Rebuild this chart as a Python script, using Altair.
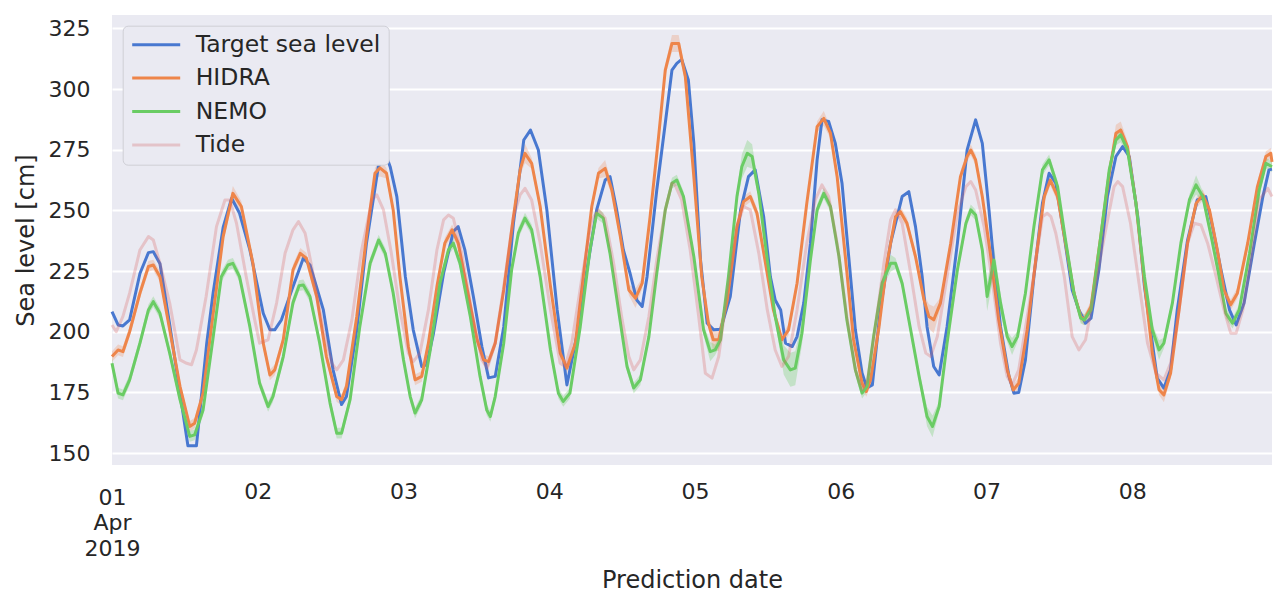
import altair as alt
import pandas as pd

# ---- data (hours since 2019-04-01 00:00, sea level in cm) ----
TARGET_H = [0, 1, 1.8, 2.9, 4.6, 6, 6.8, 7.9, 9.5, 11, 12.5, 13.9, 14.5, 15.6, 16.65, 18.3, 19.7, 21, 22.7, 24.9,
            26, 26.8, 27.9, 29.6, 31.5, 32.6, 34.8, 36.4, 37.8, 38.6, 40.3, 41.9, 43.85, 45, 45.8, 46.9, 48.3, 49.6,
            51, 51.8, 52.9, 54.6, 56.2, 57, 58.1, 59.5, 60.9, 62, 63.1, 64.5, 66.1, 67.8, 68.9, 70.2, 71.6, 73.3,
            74.9, 76.5, 78.2, 79.8, 81.2, 82, 83.1, 84.2, 85.3, 86.4, 87.3, 88.1, 89.7, 91.1, 92.2, 93, 93.8, 94.9,
            95.8, 96.9, 98, 99.1, 100.2, 101.8, 103.5, 104.8, 105.9, 107.3, 108.4, 109.2, 110.1, 110.9, 112, 112.8,
            113.9, 115, 116.1, 116.9, 118, 119.1, 120.2, 121.3, 122.4, 123.5, 124.3, 125.2, 126.5, 128.2, 130.1,
            131.2, 132.3, 133.4, 134.2, 135.3, 136.2, 137.5, 139.2, 140.8, 142.2, 143.3, 144.4, 145.2, 146.3, 147.7,
            148.5, 149.3, 150.4, 151.8, 153.2, 154.3, 155.4, 156.8, 158.1, 159.2, 160.3, 161.2, 162.5, 163.9, 165.3,
            166.4, 167.5, 168.9, 170, 171, 172.1, 173.2, 174.3, 175.4, 177.1, 178.7, 180.1, 181.2, 182.6, 184, 185.1,
            186.4, 188.1, 189.5, 190.5, 191]
TARGET_V = [208.3, 202.8, 202.4, 204.9, 224, 232.6, 233, 228, 203, 178, 153, 153, 167.8, 195.3, 216, 243, 255, 248.8,
            233.7, 207.6, 200.8, 200.8, 204.9, 217.2, 230.3, 227.5, 209, 184.3, 170, 173.3, 200.8, 236.5, 268, 273.5,
            268, 255.7, 222.7, 200.8, 185.7, 186.4, 198.9, 224.1, 241.3, 243.3, 233.7, 214.5, 193.9, 181, 181.6, 202,
            244.7, 279, 283.1, 274.9, 250.2, 209, 178.1, 198, 225.5, 250.2, 262.5, 263.9, 250.2, 233.7, 224.1, 213.1,
            210.4, 222.7, 258.4, 285.9, 307.8, 310.6, 312.2, 303.7, 277.6, 229.6, 203.5, 200.8, 201, 214.5, 250.2,
            263.9, 266.7, 247.4, 222.7, 213.1, 209, 195.3, 193.9, 198, 211.8, 236.5, 270.8, 287.3, 286.6, 277.6,
            261.2, 231, 200.8, 183, 176.8, 178.1, 209, 236.5, 255.7, 257.7, 243.3, 222.7, 202.1, 185.7, 182.2, 202.1,
            236.5, 274.9, 287.3, 277.6, 250.2, 228.2, 202.1, 181.6, 174.7, 175, 188.4, 222.7, 252.9, 265.3, 261.2,
            239.2, 217.2, 209, 203.5, 205.6, 225.5, 255.7, 272.2, 276.3, 272.2, 247.4, 218.6, 200.8, 180.9, 176.8,
            184.3, 209, 237.8, 254.3, 255.7, 243.3, 225.5, 209, 202.8, 211.8, 236.5, 255.7, 266.7, 267]

HIDRA_H = [0, 1, 1.8, 2.9, 4.6, 6, 6.8, 7.9, 9.5, 11.2, 12.8, 13.6, 15, 16.6, 18.3, 19.9, 21.3, 23.2, 24.9, 26, 26.8,
           28.2, 29.8, 31, 32, 33.7, 35.3, 37, 37.8, 38.6, 40.3, 41.9, 43.3, 44.1, 45.2, 46.3, 47.4, 48.8, 49.9, 51,
           52.1, 53.5, 54.8, 56, 57, 58.4, 60.1, 61.2, 62, 63.1, 64.5, 66.1, 67.2, 68, 69.1, 70.5, 72.2, 73.8, 74.9,
           76.3, 77.6, 79, 80.1, 81.2, 82.3, 83.7, 85.1, 86.2, 87.3, 88.6, 90, 91.1, 92.2, 93.3, 94.4, 95.8, 97.1,
           98.2, 99, 99.9, 101.3, 102.9, 104, 105.1, 106.2, 107.6, 108.9, 110.3, 111.4, 112.8, 114.4, 116.1, 117.2,
           118.3, 119.4, 120.8, 122.1, 123.5, 124.2, 124.9, 126.3, 127.6, 129, 129.8, 130.9, 132.3, 133.7, 134.5,
           135.3, 136.4, 138.1, 139.7, 140.8, 141.4, 142.2, 143.3, 144.7, 146, 147.4, 148.4, 149.3, 150.7, 152.1,
           153.5, 154.5, 155.7, 157, 158.4, 159.5, 160.1, 161.2, 162.8, 164.2, 165.3, 166.1, 167.2, 168.6, 170,
           171.3, 172.4, 173.2, 174.3, 175.7, 177.1, 178.5, 179.6, 180.7, 182, 183.1, 184.2, 185.3, 187, 188.6, 190,
           190.8, 191]
HIDRA_V = [189.8, 192.5, 191.8, 200, 215.9, 226.9, 227.5, 222.7, 200.8, 177.4, 161, 162.3, 174.7, 206.3, 239.2, 257,
           251.6, 228.2, 195.3, 182.2, 184.3, 196.7, 225.5, 232.3, 230.3, 214.5, 189.8, 173.3, 172, 177.4, 206.3,
           239.2, 265.3, 267.5, 265.3, 250.2, 222.7, 193.9, 180.2, 181.6, 195.3, 218.6, 236.5, 242, 236.5, 218.6,
           196.7, 188.4, 187.7, 195.3, 217.2, 247.4, 266.7, 273.5, 269.4, 251.6, 218.6, 191.2, 185, 195.3, 222.7,
           251.6, 265.3, 267.3, 258.4, 239.2, 217.2, 213.8, 220, 247.4, 280.4, 307.8, 318.8, 318.8, 305.1, 263.9,
           222.7, 203.5, 196.7, 196.7, 213.1, 243.3, 253.6, 255.7, 248.8, 228.2, 209, 196.7, 200.8, 220, 252.9,
           284.5, 287.9, 281.8, 263.9, 229.6, 196.7, 178.8, 175.4, 180.2, 202.1, 228.2, 247.4, 249.5, 244.7, 231,
           213.1, 206.3, 204.9, 211.8, 236.5, 263.9, 272.2, 274.9, 270.8, 255.7, 231, 204.9, 184.3, 176, 178.8,
           200.8, 229.6, 255.7, 262.5, 255.7, 236.5, 215.9, 206.3, 204.9, 210.4, 239.2, 265.3, 281.8, 283.1, 276.3,
           252.9, 220, 191.2, 176.1, 174, 182.9, 209, 236.5, 252.9, 256.4, 250.2, 233.7, 217.2, 211.1, 215.9, 236.5,
           259.8, 272.2, 273.5, 270]
HIDRA_WIDE = {19.9: 3, 44.1: 3.5, 68: 4, 81.2: 3.5, 92.2: 3.5, 93.3: 3.5, 86.2: 4, 99: 4.5, 99.9: 4.5,
              117.2: 3, 135.3: 5.5, 134.5: 5, 165.3: 3.5, 166.1: 3.5, 173.2: 3}

NEMO_H = [0, 1, 1.8, 2.9, 4.6, 6, 6.8, 7.9, 9.5, 11.2, 12.8, 13.6, 15, 16.6, 18, 19.1, 19.9, 21, 22.7, 24.3, 25.7,
          26.5, 28.2, 29.8, 30.8, 31.5, 32.6, 34.2, 35.9, 37, 37.8, 39.2, 40.8, 42.5, 43.9, 45, 46.3, 48, 49.1, 49.9,
          51, 52.4, 54, 55.4, 56.2, 57.3, 59, 60.6, 61.7, 62.3, 63.1, 64.5, 65.8, 66.9, 68, 69.1, 70.5, 72.2, 73.5,
          74.3, 75.4, 77.1, 78.7, 79.8, 80.9, 82, 83.4, 84.8, 85.9, 87, 88.4, 89.7, 91.1, 92.2, 93, 94.1, 95.8, 97.4,
          98.5, 99.3, 100.2, 101.5, 102.9, 103.7, 104.6, 105.4, 106.5, 107.9, 109.2, 110.6, 111.7, 112.5, 113.6,
          115, 116.1, 117.2, 118.3, 119.7, 121, 122.4, 123.5, 124.3, 125.4, 126.8, 128.2, 129, 130.1, 131.5, 132.9,
          134.2, 135.1, 136.2, 137.5, 139.2, 140.6, 141.4, 142.2, 143.3, 144.1, 145.2, 146.3, 147.4, 148.2, 149.1,
          150.4, 151.8, 153.2, 154.3, 155.7, 157, 158.4, 159.5, 160.1, 161.2, 162.8, 164.2, 165.3, 166.1, 167.2,
          168.6, 170, 171.3, 172.4, 173.2, 174.6, 176, 177.4, 178.5, 179.6, 181, 182.3, 183.4, 184.5, 185.6, 187.3,
          188.9, 190, 191]
NEMO_V = [187, 174.7, 174, 180.2, 195.3, 209, 212.4, 207.6, 191.2, 172, 156.9, 157.5, 167.8, 196.7, 222.7, 227.5,
          228.2, 222.7, 202.1, 178.8, 169.2, 173.3, 189.8, 212, 219, 219.3, 214.5, 195.3, 170.6, 158.2, 158.2, 172,
          202.1, 228.2, 237.8, 232.3, 215.9, 188.4, 173.3, 166.5, 172, 192.5, 220, 233.7, 236.5, 228.2, 206.3, 181.6,
          167.8, 165.1, 173.3, 195.3, 225.5, 240.6, 246.8, 242, 222.7, 192.5, 174.7, 171.3, 174.7, 202.1, 233.7,
          248.8, 246.8, 232.3, 209, 185.7, 176.8, 180.2, 198, 224.1, 250.2, 261.2, 262.5, 255.7, 231, 200.8, 191.8,
          192.5, 196.7, 222.7, 255.7, 268, 273.5, 272.2, 257, 229.6, 206.3, 188.4, 184.3, 185, 199.4, 229.6, 250.2,
          257, 251.6, 231, 204.9, 184.3, 174.7, 177.4, 198, 220, 228.2, 228.2, 220, 200.8, 181.6, 165.1, 161, 169.2,
          195.3, 225.5, 244.7, 250.2, 248.1, 233.7, 214.5, 229.6, 211.8, 198, 193.9, 198, 215.9, 243.3, 266.7,
          270.8, 259.8, 237.8, 215.9, 205.6, 204.9, 209, 239.2, 266.7, 279, 281.1, 274.9, 252.9, 222.7, 200.8,
          192.5, 195.3, 211.8, 236.5, 254.3, 260.5, 255.7, 239.2, 222.7, 207.6, 203.5, 209, 232.3, 258.4, 269.4, 268]
NEMO_WIDE = {98.5: 4, 103.7: 5, 104.6: 5.5, 105.4: 5, 110.6: 6, 111.7: 7, 112.5: 7, 113.6: 5, 128.2: 3.5,
             134.2: 4, 135.1: 4.5, 144.1: 6, 145.2: 6, 146.3: 4, 148.2: 3.5, 166.1: 3, 172.4: 4, 178.5: 4}

TIDE_H = [0, 0.7, 1.8, 2.9, 4.6, 6, 6.8, 7.9, 9.5, 11.2, 12.3, 13.1, 13.9, 15.5, 17.2, 18.6, 19.4, 20.5, 22.1, 23.5,
          24.3, 25.7, 27.1, 28.5, 29.8, 30.7, 31.8, 33.1, 34.8, 36.2, 37, 38.1, 39.5, 41.1, 42.8, 43.6, 44.7, 46,
          47.4, 48.8, 49.6, 50.7, 52.1, 53.5, 54.6, 55.4, 56.2, 57.6, 59.2, 60.9, 61.8, 63.1, 64.5, 66.1, 67.2, 68,
          69.1, 70.5, 72.2, 73.8, 74.6, 75.7, 77.4, 79, 80.1, 81.2, 82.6, 84, 85.1, 85.9, 87, 88.4, 89.7, 91.1, 92.2,
          92.7, 93.8, 95.2, 96.6, 97.7, 98.8, 99.9, 101.3, 102.9, 104, 105.1, 106.5, 107.9, 109.2, 110.3, 111.4,
          112.8, 114.4, 115.8, 116.9, 118, 119.4, 121, 122.4, 123.5, 124.4, 125.7, 127.1, 128.2, 129, 130.1, 131.5,
          132.9, 134, 134.8, 135.9, 137.5, 139.2, 140.6, 141.4, 142.2, 143.6, 145, 146.3, 147.4, 148.2, 149.3,
          150.7, 152.1, 153.2, 154, 154.6, 155.4, 156.8, 158.1, 159.2, 160.3, 161.7, 163.4, 165, 165.6, 166.4,
          167.7, 169.1, 170.5, 171.9, 173.2, 174.3, 175.7, 177.1, 178.2, 179.3, 180.4, 181.8, 183.1, 184.2, 185.1,
          186.2, 187.5, 188.9, 190.3, 191]
TIDE_V = [202.8, 200, 206.3, 215.9, 233.7, 239.2, 237.8, 228.2, 211.8, 188.4, 187, 186.4, 192.5, 214.5, 243.3, 254.3,
          254.3, 244.7, 222.7, 204.9, 195.3, 196.7, 211.8, 232.3, 242, 245.4, 240.6, 224.1, 200.8, 187, 184.3, 188.4,
          204.9, 233.7, 254.3, 256.4, 250.2, 232.3, 209, 191.2, 187.7, 191.2, 209, 233.7, 246.1, 248.1, 246.8,
          232.3, 209, 188.4, 185, 195.3, 218.6, 247.4, 256.4, 259.1, 254.3, 236.5, 209, 187, 185.7, 195.3, 222.7,
          246.1, 250.2, 246.8, 228.2, 204.9, 189.8, 184.3, 188.4, 206.3, 229.6, 250.2, 261.2, 260.5, 254.3, 233.7,
          206.3, 182.9, 180.9, 189.8, 215.9, 243.3, 251.6, 250.2, 232.3, 209, 192.5, 185.7, 189.8, 209, 236.5,
          254.3, 260.5, 255.7, 236.5, 206.3, 184.3, 176.1, 180, 202.1, 228.2, 246.1, 250.2, 244.7, 224.1, 202.1,
          191.2, 189.8, 198, 222.7, 248.8, 259.8, 261.9, 258.4, 243.3, 220, 195.3, 181.6, 178.1, 184.3, 206.3,
          228.2, 247.4, 248.8, 247.4, 240.6, 222.7, 198, 192.5, 196.7, 215.9, 239.2, 259.8, 261.9, 259.8, 244.7,
          220, 195.3, 182.9, 180.2, 187, 209, 236.5, 244.7, 244, 236.5, 222.7, 209, 199.4, 199.4, 209, 229.6, 254.3,
          259.1, 255.7]

SERIES = ["Target sea level", "HIDRA", "NEMO", "Tide"]
COLORS = ["#4878d0", "#ee854a", "#6acc64", "#e3c3c9"]
DAY_TICKS = [0, 24, 48, 72, 96, 120, 144, 168]
Y_TICKS = [150, 175, 200, 225, 250, 275, 300, 325]
DEFAULT_HALF_BAND = 2.2


def frame(name, hours, values, wide=None):
    rows = []
    for h, v in zip(hours, values):
        half = (wide or {}).get(h, DEFAULT_HALF_BAND)
        rows.append({"series": name, "hour": h, "value": v, "lo": v - half, "hi": v + half})
    return pd.DataFrame(rows)


df_target = frame(SERIES[0], TARGET_H, TARGET_V)
df_hidra = frame(SERIES[1], HIDRA_H, HIDRA_V, HIDRA_WIDE)
df_nemo = frame(SERIES[2], NEMO_H, NEMO_V, NEMO_WIDE)
df_tide = frame(SERIES[3], TIDE_H, TIDE_V)

FONT = "DejaVu Sans"
TEXT = "#262626"

x_enc = alt.X(
    "hour:Q",
    scale=alt.Scale(domain=[0, 191], nice=False, zero=False),
    axis=alt.Axis(
        values=DAY_TICKS,
        labelExpr="datum.value == 0 ? ['01', 'Apr', '2019'] : '0' + (datum.value / 24 + 1)",
        grid=False,
        labelFlush=False,
        labelOverlap=False,
        labelAlign="center",
        labelBaseline="top",
        labelPadding={"condition": {"test": "datum.value == 0", "value": 22}, "value": 16},
        labelLineHeight=25.5,
        title="Prediction date",
        titlePadding=9,
    ),
)
y_scale = alt.Scale(domain=[145.1, 330.5], nice=False, zero=False)
y_axis = alt.Axis(values=Y_TICKS, grid=True, labelPadding=22, labelFlush=False, title="Sea level [cm]",
                  titlePadding=10)

band_h = alt.Chart(df_hidra).mark_area(color="#ee854a", opacity=0.25).encode(
    x=x_enc, y=alt.Y("lo:Q", scale=y_scale, axis=y_axis), y2="hi:Q")
band_n = alt.Chart(df_nemo).mark_area(color="#6acc64", opacity=0.3).encode(
    x=x_enc, y=alt.Y("lo:Q", scale=y_scale, axis=y_axis), y2="hi:Q")

lines_df = pd.concat([df_target, df_hidra, df_nemo], ignore_index=True)
lines = alt.Chart(lines_df).mark_line(strokeWidth=3, strokeJoin="round").encode(
    x=x_enc,
    y=alt.Y("value:Q", scale=y_scale, axis=y_axis),
    color=alt.Color(
        "series:N",
        scale=alt.Scale(domain=SERIES, range=COLORS),
        sort=SERIES,
        legend=alt.Legend(
            title=None,
            orient="none",
            legendX=10.7,
            legendY=10.7,
            symbolType="stroke",
            symbolSize=2304,
            symbolStrokeWidth=3,
            labelFontSize=23.5,
            labelFont=FONT,
            labelColor=TEXT,
            labelLimit=400,
            labelOffset=14,
            clipHeight=22,
            rowPadding=9.4,
            padding=8,
            fillColor="#eaeaf2",
            strokeColor="#cfcfd6",
            cornerRadius=5,
        ),
    ),
)
tide = alt.Chart(df_tide).mark_line(strokeWidth=3, color="#d65f5f", opacity=0.28, strokeJoin="round").encode(
    x=x_enc, y=alt.Y("value:Q", scale=y_scale, axis=y_axis))

chart = alt.layer(band_h, band_n, lines, tide).properties(
    width=1160,
    height=450,
    autosize=alt.AutoSizeParams(type="none"),
    padding={"left": 104, "top": 7, "right": 8, "bottom": 135},
    background="white",
).configure_view(fill="#eaeaf2", stroke=None).configure_axis(
    domain=False,
    ticks=False,
    tickSize=0,
    labelFont=FONT,
    labelFontSize=22,
    labelColor=TEXT,
    titleFont=FONT,
    titleFontSize=24,
    titleFontWeight="normal",
    titleColor=TEXT,
    gridColor="#ffffff",
    gridWidth=2,
    gridOpacity=1,
)

chart.save("out.html", embed_options={"renderer": "svg", "actions": False})
